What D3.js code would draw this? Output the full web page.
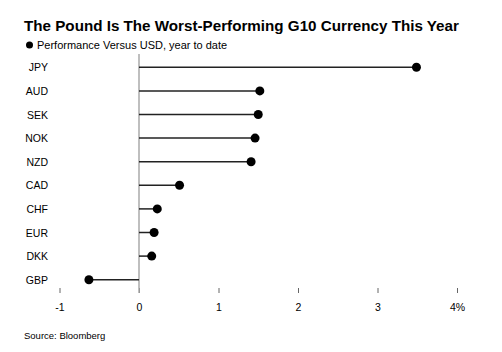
<!DOCTYPE html>
<html>
<head>
<meta charset="utf-8">
<script src="https://cdn.jsdelivr.net/npm/d3@7"></script>
<style>
  body { margin: 0; background: #fff; }
  svg { font-family: "Liberation Sans", Arial, sans-serif; display: block; }
</style>
</head>
<body>
<svg id="drawing_region"></svg>
<script>
// chart data
const currencies = ['JPY', 'AUD', 'SEK', 'NOK', 'NZD', 'CAD', 'CHF', 'EUR', 'DKK', 'GBP'];
const performance = [3.49, 1.52, 1.50, 1.46, 1.41, 0.51, 0.23, 0.19, 0.16, -0.63];
const tickValues = [-1, 0, 1, 2, 3, 4];
const tickLabels = ['-1', '0', '1', '2', '3', '4%'];

const width = 502, height = 352;
const margin = { top: 55, right: 45, bottom: 59, left: 59.5 };

const svg = d3.select('#drawing_region')
    .attr('width', width)
    .attr('height', height);

const xscale = d3.scaleLinear()
    .domain([-1, 4])
    .range([margin.left, 457]);

const yscale = d3.scaleBand()
    .domain(currencies)
    .range([55.5, 291.5]);

const data = currencies.map((c, i) => ({ cur: c, val: performance[i] }));

// title
svg.append('text')
    .attr('x', 24)
    .attr('y', 31)
    .style('font-size', '15.2px')
    .style('font-weight', 'bold')
    .attr('fill', '#000')
    .text('The Pound Is The Worst-Performing G10 Currency This Year');

// legend
svg.append('circle')
    .attr('cx', 29.5)
    .attr('cy', 45)
    .attr('r', 3.5)
    .attr('fill', '#000');
svg.append('text')
    .attr('x', 37)
    .attr('y', 49)
    .style('font-size', '11px')
    .attr('fill', '#000')
    .text('Performance Versus USD, year to date');

// x axis (ticks + labels)
const xaxis = d3.axisBottom(xscale)
    .tickValues(tickValues)
    .tickFormat((d, i) => tickLabels[i])
    .tickSize(5)
    .tickPadding(10.5);

const xaxis_group = svg.append('g')
    .attr('transform', 'translate(0, 288)')
    .call(xaxis);
xaxis_group.select('.domain').remove();
xaxis_group.selectAll('.tick line').attr('stroke', '#666').attr('stroke-width', 1);
xaxis_group.selectAll('.tick text')
    .attr('fill', '#000')
    .style('font-size', '10.5px')
    .style('font-family', '"Liberation Sans", Arial, sans-serif');

// zero line
svg.append('line')
    .attr('x1', xscale(0)).attr('x2', xscale(0))
    .attr('y1', 54).attr('y2', 293)
    .attr('stroke', '#aaa')
    .attr('stroke-width', 1.5);

// category labels
svg.selectAll('text.cat')
    .data(data)
    .join('text')
    .attr('class', 'cat')
    .attr('x', 48)
    .attr('y', d => yscale(d.cur) + yscale.bandwidth() / 2 + 4)
    .attr('text-anchor', 'end')
    .style('font-size', '10.5px')
    .attr('fill', '#000')
    .text(d => d.cur);

// stems
svg.selectAll('line.stem')
    .data(data)
    .join('line')
    .attr('class', 'stem')
    .attr('x1', xscale(0))
    .attr('x2', d => xscale(d.val))
    .attr('y1', d => yscale(d.cur) + yscale.bandwidth() / 2)
    .attr('y2', d => yscale(d.cur) + yscale.bandwidth() / 2)
    .attr('stroke', '#222')
    .attr('stroke-width', 1.5);

// dots
svg.selectAll('circle.dot')
    .data(data)
    .join('circle')
    .attr('class', 'dot')
    .attr('cx', d => xscale(d.val))
    .attr('cy', d => yscale(d.cur) + yscale.bandwidth() / 2)
    .attr('r', 4.5)
    .attr('fill', '#000');

// source
svg.append('text')
    .attr('x', 24)
    .attr('y', 339)
    .style('font-size', '9.5px')
    .attr('fill', '#000')
    .text('Source: Bloomberg');
</script>
</body>
</html>
